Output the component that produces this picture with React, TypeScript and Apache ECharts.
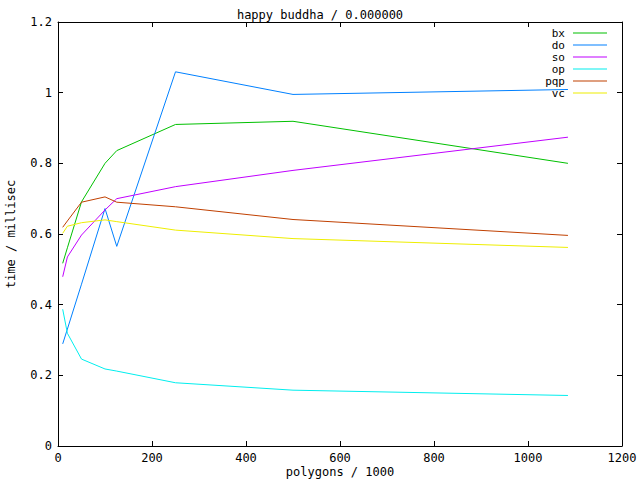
import React, { useEffect, useRef } from "react";
import * as echarts from "echarts";

const polygons = [10, 20, 50, 100, 125, 250, 500, 1085];
const bx = [0.517, 0.561, 0.691, 0.8, 0.836, 0.91, 0.919, 0.8];
const doS = [0.289, 0.331, 0.458, 0.672, 0.565, 1.059, 0.995, 1.009];
const so = [0.479, 0.535, 0.597, 0.668, 0.7, 0.734, 0.78, 0.874];
const op = [0.387, 0.319, 0.246, 0.218, 0.212, 0.179, 0.158, 0.143];
const pqp = [0.619, 0.637, 0.69, 0.705, 0.69, 0.677, 0.641, 0.596];
const vc = [0.602, 0.622, 0.632, 0.64, 0.635, 0.611, 0.587, 0.562];

const seriesNames = ["bx", "do", "so", "op", "pqp", "vc"];
const seriesData = [bx, doS, so, op, pqp, vc];
const seriesColors = ["#00c000", "#0080ff", "#c000ff", "#00eeee", "#c04000", "#eeee00"];

const FONT = "DejaVu Sans Mono";

export default function App() {
  const ref = useRef<HTMLDivElement>(null);
  useEffect(() => {
    if (!ref.current) return;
    const chart = echarts.init(ref.current, undefined, { renderer: "svg" });
    const textStyle = { fontFamily: FONT, fontSize: 12, color: "#000" };
    const axisLine = { show: true, onZero: false, lineStyle: { color: "#000", width: 1 } };
    const axisTick = { show: true, inside: true, length: 5, lineStyle: { color: "#000" } };
    chart.setOption({
      animation: false,
      backgroundColor: "#fff",
      title: {
        text: "happy buddha / 0.000000",
        left: "center",
        top: 4,
        textStyle: { ...textStyle, fontWeight: "normal" },
      },
      legend: {
        orient: "vertical",
        right: 28,
        top: 22,
        align: "right",
        itemWidth: 34,
        itemHeight: 1,
        itemGap: 0,
        icon: "rect",
        data: seriesNames,
        textStyle: { ...textStyle, fontSize: 11, padding: [0, 3, 0, 0], lineHeight: 12 },
      },
      grid: { left: 58, right: 18, top: 22, bottom: 34, outerBoundsMode: "none", containLabel: false },
      xAxis: [
        {
          type: "value",
          min: 0,
          max: 1200,
          interval: 200,
          name: "polygons / 1000",
          nameLocation: "middle",
          nameGap: 20,
          nameMoveOverlap: false,
          nameTextStyle: { ...textStyle, lineHeight: 12 },
          axisLine,
          axisTick,
          axisLabel: { ...textStyle, margin: 6, formatter: (v: number) => String(v) },
          splitLine: { show: false },
        },
        {
          type: "value",
          position: "top",
          min: 0,
          max: 1200,
          interval: 200,
          axisLine,
          axisTick,
          axisLabel: { show: false },
          splitLine: { show: false },
        },
      ],
      yAxis: [
        {
          type: "value",
          min: 0,
          max: 1.2,
          interval: 0.2,
          name: "time / millisec",
          nameLocation: "middle",
          nameGap: 41,
          nameMoveOverlap: false,
          nameRotate: 90,
          nameTextStyle: textStyle,
          axisLine,
          axisTick,
          axisLabel: { ...textStyle, margin: 6 },
          splitLine: { show: false },
        },
        {
          type: "value",
          position: "right",
          min: 0,
          max: 1.2,
          interval: 0.2,
          axisLine,
          axisTick,
          axisLabel: { show: false },
          splitLine: { show: false },
        },
      ],
      series: seriesNames.map((n, i) => ({
        name: n,
        type: "line",
        symbol: "none",
        showSymbol: false,
        color: seriesColors[i],
        itemStyle: { color: seriesColors[i] },
        lineStyle: { color: seriesColors[i], width: 1 },
        data: polygons.map((x, j) => [x, seriesData[i][j]]),
      })),
    });
    return () => chart.dispose();
  }, []);
  return <div ref={ref} style={{ width: 640, height: 480, position: "absolute", left: 0, top: 0 }} />;
}
